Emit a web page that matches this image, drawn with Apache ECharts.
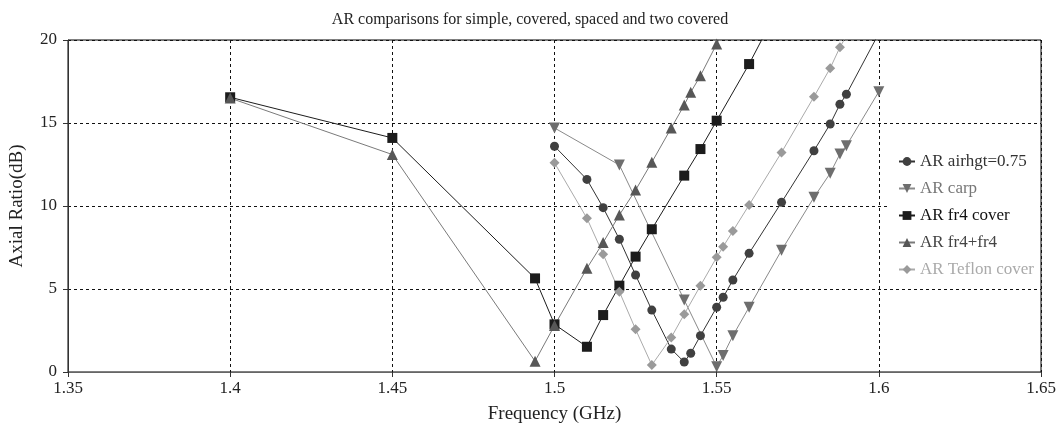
<!DOCTYPE html>
<html>
<head>
<meta charset="utf-8">
<script src="https://cdn.jsdelivr.net/npm/echarts@6/dist/echarts.min.js"></script>
<style>
  html, body { margin: 0; padding: 0; background: #fff; }
  #chart { width: 1060px; height: 430px; }
</style>
</head>
<body>
<div id="chart"></div>
<script>
  // values (frequency in GHz, axial ratio in dB)
  var airhgtFreq = [1.5, 1.51, 1.515, 1.52, 1.525, 1.53, 1.536, 1.54, 1.542, 1.545, 1.55, 1.552, 1.555, 1.56, 1.57, 1.58, 1.585, 1.588, 1.59, 1.6];
  var airhgtAR = [13.6, 11.6, 9.9, 8.0, 5.84, 3.73, 1.38, 0.6, 1.13, 2.19, 3.9, 4.5, 5.54, 7.15, 10.22, 13.33, 14.94, 16.13, 16.73, 20.4];

  var carpFreq = [1.5, 1.52, 1.54, 1.55, 1.552, 1.555, 1.56, 1.57, 1.58, 1.585, 1.588, 1.59, 1.6];
  var carpAR = [14.7, 12.47, 4.34, 0.32, 1.0, 2.19, 3.9, 7.33, 10.52, 11.97, 13.13, 13.63, 16.89];

  var fr4Freq = [1.4, 1.45, 1.494, 1.5, 1.51, 1.515, 1.52, 1.525, 1.53, 1.54, 1.545, 1.55, 1.56, 1.57];
  var fr4AR = [16.55, 14.1, 5.64, 2.87, 1.52, 3.43, 5.2, 6.95, 8.6, 11.83, 13.43, 15.14, 18.55, 22.3];

  var fr4fr4Freq = [1.4, 1.45, 1.494, 1.5, 1.51, 1.515, 1.52, 1.525, 1.53, 1.536, 1.54, 1.542, 1.545, 1.55, 1.552];
  var fr4fr4AR = [16.5, 13.1, 0.65, 2.8, 6.25, 7.8, 9.46, 10.96, 12.63, 14.7, 16.08, 16.85, 17.85, 19.76, 20.6];

  var teflonFreq = [1.5, 1.51, 1.515, 1.52, 1.525, 1.53, 1.536, 1.54, 1.545, 1.55, 1.552, 1.555, 1.56, 1.57, 1.58, 1.585, 1.588, 1.59];
  var teflonAR = [12.6, 9.26, 7.1, 4.84, 2.57, 0.42, 2.08, 3.48, 5.2, 6.91, 7.55, 8.49, 10.06, 13.23, 16.58, 18.3, 19.56, 20.25];

  var seriesNames = ['AR airhgt=0.75', 'AR carp', 'AR fr4 cover', 'AR fr4+fr4', 'AR Teflon cover'];

  var font = 'Liberation Serif';

  function pairs(xs, ys) {
    var out = [];
    for (var i = 0; i < xs.length; i++) {
      out.push([xs[i], ys[i]]);
    }
    return out;
  }

  function makeSeries(name, xs, ys, symbol, size, markColor, lineColor, rotate) {
    return {
      name: name,
      type: 'line',
      data: pairs(xs, ys),
      symbol: symbol,
      symbolSize: size,
      symbolRotate: rotate || 0,
      showAllSymbol: true,
      clip: true,
      itemStyle: { color: markColor, borderWidth: 0 },
      lineStyle: { color: lineColor, width: 1 },
      emphasis: { disabled: true }
    };
  }

  var myChart = echarts.init(document.getElementById('chart'));
  var option = {
    animation: false,
    backgroundColor: '#fff',
    title: {
      text: 'AR comparisons for simple, covered, spaced and two covered',
      left: 'center',
      top: 7,
      textStyle: { fontFamily: font, fontSize: 16, fontWeight: 'normal', color: '#222' }
    },
    legend: {
      orient: 'vertical',
      left: 888,
      top: 146,
      padding: [7, 6, 7, 10],
      itemGap: 10,
      itemWidth: 16,
      itemHeight: 11,
      backgroundColor: '#fff',
      textStyle: { fontFamily: font, fontSize: 17 },
      data: [
        { name: seriesNames[0], textStyle: { color: '#333' } },
        { name: seriesNames[1], textStyle: { color: '#777' } },
        { name: seriesNames[2], textStyle: { color: '#111' } },
        { name: seriesNames[3], textStyle: { color: '#444' } },
        { name: seriesNames[4], textStyle: { color: '#aaa' } }
      ]
    },
    grid: {
      left: 67,
      right: 19,
      top: 40,
      bottom: 58,
      show: true,
      borderColor: '#000',
      borderWidth: 1
    },
    xAxis: {
      type: 'value',
      min: 1.35,
      max: 1.65,
      interval: 0.05,
      name: 'Frequency (GHz)',
      nameLocation: 'middle',
      nameGap: 33,
      nameTextStyle: { fontFamily: font, fontSize: 19, color: '#222' },
      axisLine: { show: true, lineStyle: { color: '#666', width: 1 } },
      axisTick: { show: true, length: 5, lineStyle: { color: '#333' } },
      axisLabel: { fontFamily: font, fontSize: 17, color: '#222', margin: 8 },
      splitLine: { show: true, lineStyle: { color: '#111', type: [3, 3], width: 1 } }
    },
    yAxis: {
      type: 'value',
      min: 0,
      max: 20,
      interval: 5,
      name: 'Axial Ratio(dB)',
      nameLocation: 'middle',
      nameGap: 41,
      nameTextStyle: { fontFamily: font, fontSize: 19, color: '#222' },
      axisLine: { show: true, lineStyle: { color: '#333', width: 1 } },
      axisTick: { show: true, length: 5, lineStyle: { color: '#333' } },
      axisLabel: { fontFamily: font, fontSize: 17, color: '#222', margin: 11 },
      splitLine: { show: true, lineStyle: { color: '#111', type: [3, 3], width: 1 } }
    },
    series: [
      makeSeries(seriesNames[0], airhgtFreq, airhgtAR, 'circle', 9, '#404040', '#333'),
      makeSeries(seriesNames[1], carpFreq, carpAR, 'triangle', 11, '#6e6e6e', '#8a8a8a', 180),
      makeSeries(seriesNames[2], fr4Freq, fr4AR, 'rect', 10, '#1c1c1c', '#1c1c1c'),
      makeSeries(seriesNames[3], fr4fr4Freq, fr4fr4AR, 'triangle', 11, '#575757', '#7a7a7a'),
      makeSeries(seriesNames[4], teflonFreq, teflonAR, 'diamond', 10, '#9a9a9a', '#aaa')
    ]
  };
  myChart.setOption(option);
</script>
</body>
</html>
